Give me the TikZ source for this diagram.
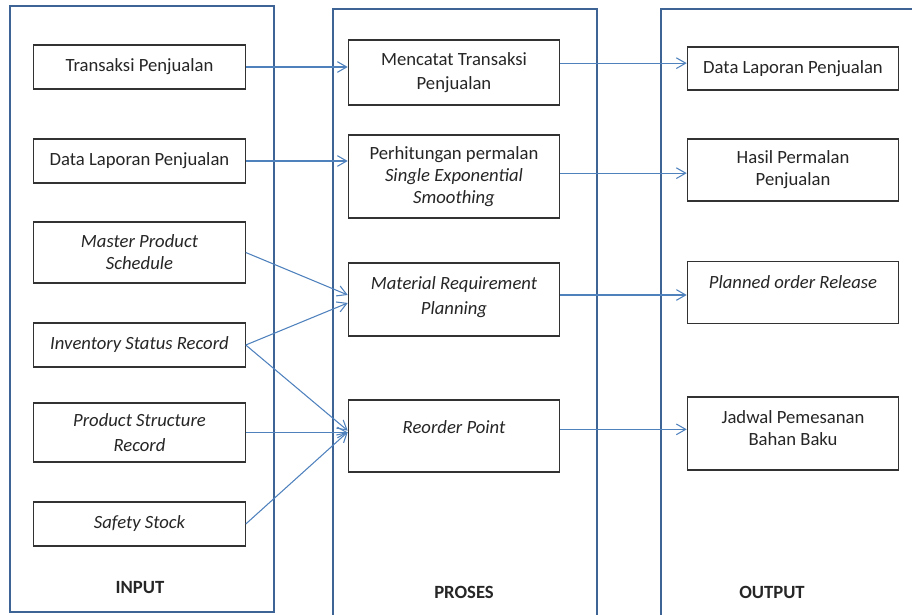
\documentclass[tikz,border=0pt]{standalone}
\usepackage{fontspec}
\setmainfont{Carlito}
\usetikzlibrary{arrows.meta}
\definecolor{panelblue}{RGB}{62,100,150}
\definecolor{arrowblue}{RGB}{79,129,189}
\definecolor{boxgrey}{RGB}{50,50,50}

\begin{document}
\begin{tikzpicture}[x=0.75pt,y=-0.75pt,
	panel/.style={draw=panelblue,line width=1.8pt},
	box/.style={draw=boxgrey,line width=0.9pt,fill=white,text=black!85,align=center,
		font=\fontsize{14}{16.5}\selectfont,minimum width=158.5pt,inner sep=2pt},
	loose/.style={font=\fontsize{14}{18.5}\selectfont},
	flow/.style={draw=arrowblue,line width=0.8pt,-{Straight Barb[length=7pt,width=8pt]}},
	title/.style={font=\fontsize{14}{16.5}\selectfont\bfseries,text=black!85}]
	\useasboundingbox (0,0) rectangle (912,614);
	\clip (0,0) rectangle (912,614);
	% columns
	\draw[panel] (10,6) rectangle (274,612);
	\draw[panel] (333,9) rectangle (597,640);
	\draw[panel] (661,9) rectangle (940,640);
	\node[title] (tin) at (140,588) {INPUT};
	\node[title] (tpro) at (464,592) {PROSES};
	\node[title] (tout) at (772,592) {OUTPUT};
	% input
	\node[box,minimum height=33pt] (trans) at (139.5,67) {Transaksi Penjualan};
	\node[box,minimum height=33pt] (dlap) at (139.5,161) {Data Laporan Penjualan};
	\node[box,minimum height=45.75pt] (mps) at (139.5,252.5) {\itshape Master Product\\ \itshape Schedule};
	\node[box,minimum height=33pt] (isr) at (139.5,345) {\itshape Inventory Status Record};
	\node[box,loose,minimum height=44.25pt] (psr) at (139.5,432.5) {\itshape Product Structure\\ \itshape Record};
	\node[box,minimum height=33pt] (ss) at (139.5,524) {\itshape Safety Stock};
	% proses
	\node[box,loose,minimum height=48.75pt] (mencatat) at (454,72.5) {Mencatat Transaksi\\ Penjualan};
	\node[box,minimum height=62.25pt] (hitung) at (454,176.5) {Perhitungan permalan\\ \itshape Single Exponential\\ \itshape Smoothing};
	\node[box,loose,minimum height=54.75pt,text depth=6pt] (mrp) at (454,299.5) {\itshape Material Requirement\\ \itshape Planning};
	\node[box,minimum height=54pt,text depth=13pt] (rop) at (454,436) {\itshape Reorder Point};
	% output
	\node[box,minimum height=32.25pt] (olap) at (793,68.5) {Data Laporan Penjualan};
	\node[box,minimum height=46.5pt] (hasil) at (793,170) {Hasil Permalan\\ Penjualan};
	\node[box,minimum height=46.5pt,text depth=15pt] (por) at (793,292.5) {\itshape Planned order Release};
	\node[box,minimum height=54.75pt,text depth=7.5pt] (jadwal) at (793,433.5) {Jadwal Pemesanan\\ Bahan Baku};
	% arrows
	\draw[flow] (trans.east) -- (trans.east -| mencatat.west);
	\draw[flow] ([yshift=7pt]mencatat.east) -- ([yshift=7pt]mencatat.east -| olap.west);
	\draw[flow] (dlap.east) -- (dlap.east -| hitung.west);
	\draw[flow] ([yshift=2.5pt]hitung.east) -- ([yshift=2.5pt]hitung.east -| hasil.west);
	\draw[flow] (mps.east) -- ([yshift=3.4pt]mrp.west);
	\draw[flow] (isr.east) -- ([yshift=-2.6pt]mrp.west);
	\draw[flow] (isr.east) -- ([yshift=4pt]rop.west);
	\draw[flow] (psr.east) -- (psr.east -| rop.west);
	\draw[flow] (ss.east) -- ([yshift=3pt]rop.west);
	\draw[flow] ([yshift=3.4pt]mrp.east) -- ([yshift=3.4pt]mrp.east -| por.west);
	\draw[flow] ([yshift=5pt]rop.east) -- ([yshift=5pt]rop.east -| jadwal.west);
\end{tikzpicture}
\end{document}
